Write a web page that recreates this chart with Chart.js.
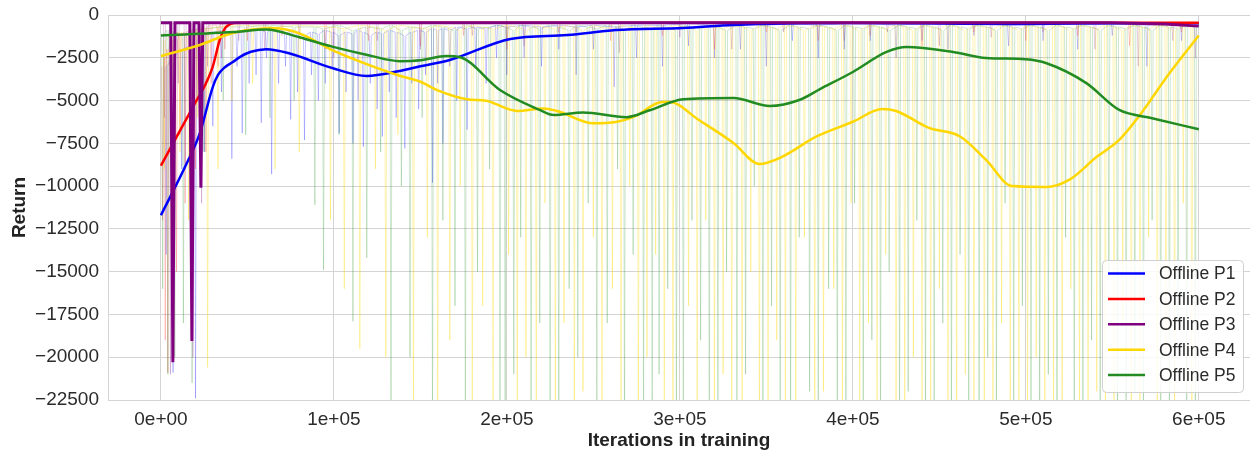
<!DOCTYPE html>
<html>
<head>
<meta charset="utf-8">
<title>Offline returns</title>
<script src="https://cdn.jsdelivr.net/npm/chart.js@4.4.1/dist/chart.umd.min.js"></script>
<style>
    body { margin: 0; background: #fff; }
    #wrap { width: 1250px; height: 450px; }
</style>
</head>
<body>
<div id="wrap"><canvas id="returnChart" width="1250" height="450"></canvas></div>
<script>
// x values are in thousands of iterations
const xTickValues = [0, 100, 200, 300, 400, 500, 600];
const xTickLabels = ['0e+00', '1e+05', '2e+05', '3e+05', '4e+05', '5e+05', '6e+05'];
const yTickValues = [0, -2500, -5000, -7500, -10000, -12500, -15000, -17500, -20000, -22500];

const seriesNames = ['Offline P1', 'Offline P2', 'Offline P3', 'Offline P4', 'Offline P5'];
const seriesColors = ['#0000ff', '#ff0000', '#800080', '#ffd700', '#228b22'];
const rawColors = ['rgba(0,0,255,0.22)', 'rgba(255,0,0,0.2)', 'rgba(128,0,128,0.2)',
                   'rgba(255,215,0,0.3)', 'rgba(34,139,34,0.22)'];

// smoothed curves [x, return]
const p1Smooth = [[0,-11700],[15,-8650],[22.5,-6900],[30,-4200],[33,-3500],[37,-3050],[41.6,-2750],
    [46,-2430],[52,-2150],[61,-2000],[74.5,-2250],[99,-3100],[119,-3560],[138,-3270],[150,-3000],
    [167,-2630],[202,-1400],[235,-1170],[263,-880],[302,-760],[331,-580],[398,-470],[450,-500],
    [500,-520],[560,-480],[600,-480]];
const p2Smooth = [[0,-8800],[10,-6950],[20,-5100],[26,-4000],[30,-3000],[34,-1460],[37,-780],[40,-530],
    [45,-450],[300,-450],[600,-450]];
const p3Smooth = [[0,-450],[5.7,-450],[6.9,-20300],[8.1,-450],[16.7,-450],[17.9,-19050],[19.1,-450],
    [22,-450],[23.1,-10100],[24.2,-450],[550,-450],[580,-520],[600,-650]];
const p4Smooth = [[0,-2400],[22.5,-1750],[41.6,-1050],[65,-780],[80,-1070],[99,-2050],[128,-3210],
    [138,-3550],[150,-3900],[160,-4400],[177,-4920],[188,-5010],[206,-5610],[221,-5460],[229,-5610],
    [250,-6330],[263,-6250],[273,-5970],[290,-5080],[294,-5080],[311,-6140],[331,-7480],[346,-8710],
    [359,-8290],[379,-7100],[400,-6240],[417,-5500],[425,-5610],[444,-6600],[462,-7100],[477,-8470],
    [492,-10000],[512,-10050],[525,-9640],[541,-8290],[554,-7300],[566,-5840],[583,-3410],[600,-1200]];
const p5Smooth = [[0,-1200],[41.6,-1000],[61,-850],[80,-1300],[99,-1850],[120,-2350],[138,-2700],
    [150,-2650],[165,-2400],[173,-2470],[196,-4380],[219,-5550],[227,-5850],[244,-5700],[269,-5970],
    [283,-5550],[302,-4920],[331,-4850],[352,-5320],[369,-4970],[381,-4330],[400,-3330],[419.5,-2160],
    [431,-1870],[458,-2160],[477,-2510],[500,-2590],[512,-2820],[535,-3980],[554,-5550],[573,-6030],
    [600,-6680]];

// raw spikes [x, level before/after, lowest value]
const p1Raw = [[3,-3000,-14000],[7,-2500,-20900],[12,-2000,-9000],[17,-1800,-12000],[20,-1500,-22400],
    [25,-1200,-8000],[30,-1000,-6500],[35,-900,-4500],[41,-1000,-8400],[44,-1100,-3000],[47,-900,-6900],
    [51,-1000,-4000],[55,-800,-3500],[58,-900,-6300],[61,-1000,-2500],[64,-900,-9300],[68,-1000,-4000],
    [72,-1100,-3000],[75,-900,-6100],[79,-1000,-4500],[83,-1200,-7300],[87,-1000,-3500],[91,-1100,-5000],
    [95,-900,-4000],[99,-1000,-3000],[103,-1200,-6900],[107,-1000,-4500],[111,-1100,-7500],[114,-900,-5000],
    [117,-1000,-7700],[121,-1200,-4000],[125,-1000,-5500],[128,-1100,-7100],[132,-900,-4500],[136,-1000,-6000],
    [141,-1200,-7800],[145,-1000,-4000],[149,-900,-5500],[153,-1000,-3500],[157,-800,-9800],[160,-900,-4000],
    [163,-800,-7500],[167,-900,-3000],[171,-700,-5000],[177,-800,-6700],[182,-700,-3000],[188,-800,-4000],
    [194,-600,-2500],[200,-700,-3500],[210,-600,-2500],[220,-700,-3000],[230,-600,-2000],[240,-700,-3500],
    [250,-600,-2000],[262,-700,-4200],[275,-600,-2500],[290,-600,-3000],[305,-500,-1800],[320,-600,-2500],
    [335,-500,-2000],[350,-600,-3000],[365,-500,-1500],[380,-600,-2500],[395,-500,-2000],[410,-500,-1500],
    [425,-600,-2500],[440,-500,-1500],[455,-500,-2000],[470,-500,-1200],[490,-600,-1800],[510,-500,-1500],
    [530,-500,-2000],[550,-500,-1200],[570,-600,-3000],[590,-500,-1500]];
const p2Raw = [[1,-3000,-12000],[2.5,-2500,-19000],[4,-2000,-20900],[6,-1500,-9000],[9,-1500,-15000],
    [11,-1200,-7000],[14,-1000,-11000],[17,-900,-6000],[20,-800,-9000],[23,-700,-5000],[26,-700,-8000],
    [29,-600,-4000],[33,-600,-3000],[37,-500,-2000],[50,-500,-1500],[70,-500,-1200],[95,-500,-2000],
    [120,-500,-1500],[150,-500,-1800],[175,-500,-1200],[200,-500,-2000],[230,-500,-1000],[260,-500,-1500],
    [290,-500,-1200],[320,-500,-2000],[350,-500,-1000],[380,-500,-1500],[410,-500,-1200],[440,-500,-1800],
    [470,-500,-1000],[500,-500,-1500],[530,-500,-1200],[560,-500,-1800],[590,-500,-1000]];
const p3Raw = [[2,-500,-6000],[5.5,-500,-21000],[10,-500,-4000],[14,-500,-9000],[18.5,-500,-20000],
    [21,-500,-5000],[23.5,-500,-11000],[27,-500,-3000],[35,-500,-2500],[45,-500,-1500],[60,-500,-2000],
    [80,-500,-1200],[100,-500,-2500],[125,-500,-1500],[150,-500,-2000],[180,-500,-1200],[210,-500,-1800],
    [240,-500,-1000],[265,-500,-2200],[300,-500,-1300],[330,-500,-2000],[360,-500,-1000],[395,-500,-1500],
    [420,-500,-1000],[450,-500,-1800],[480,-500,-1300],[510,-500,-1000],[540,-500,-2000],[565,-500,-3000],
    [585,-500,-1500],[598,-500,-2500]];
const p4Raw = [[2,-1500,-9000],[6,-1200,-14000],[11,-1000,-8000],[16,-1300,-12000],[21,-900,-6000],
    [27,-800,-20600],[33,-700,-9000],[41,-600,-5000],[53,-600,-4000],[66,-700,-9000],[80,-600,-8000],
    [98,-700,-12000],[106,-800,-16000],[115,-600,-19500],[124,-700,-9000],[130,-900,-20000],
    [137,-600,-7000],[146,-700,-23000],[154,-800,-13000],[160,-600,-24000],[167,-700,-19000],
    [173,-900,-10000],[180,-600,-24000],[186,-700,-17000],[192,-800,-24000],[201,-600,-14000],
    [206,-700,-24000],[211,-900,-20000],[217,-600,-24000],[222,-700,-11000],[228,-800,-24000],
    [233,-600,-18000],[239,-700,-24000],[244,-900,-22000],[250,-600,-13000],[255,-700,-24000],
    [261,-800,-16000],[266,-600,-24000],[271,-700,-10000],[276,-900,-24000],[281,-600,-20000],
    [286,-700,-14000],[291,-800,-24000],[296,-600,-24000],[305,-700,-17000],[310,-900,-24000],
    [315,-600,-12000],[320,-700,-24000],[325,-800,-21000],[330,-600,-24000],[336,-700,-24000],
    [341,-900,-15000],[346,-600,-24000],[351,-700,-24000],[356,-800,-19000],[361,-600,-24000],
    [367,-700,-24000],[372,-900,-13000],[378,-600,-24000],[383,-700,-22000],[389,-800,-16000],
    [394,-600,-24000],[399,-700,-11000],[404,-900,-24000],[409,-600,-18000],[414,-700,-24000],
    [419,-800,-14000],[425,-600,-24000],[430,-700,-24000],[435,-900,-20000],[440,-600,-24000],
    [445,-700,-24000],[450,-800,-16000],[455,-600,-24000],[460,-700,-24000],[465,-900,-21000],
    [470,-600,-24000],[476,-700,-24000],[481,-800,-24000],[486,-600,-18000],[491,-700,-24000],
    [496,-900,-24000],[501,-600,-24000],[506,-700,-20000],[511,-800,-24000],[516,-600,-24000],
    [521,-700,-24000],[526,-900,-16000],[531,-600,-24000],[536,-700,-24000],[541,-800,-22000],
    [546,-600,-24000],[551,-700,-24000],[556,-900,-18000],[561,-600,-24000],[566,-700,-24000],
    [571,-800,-13000],[576,-600,-24000],[581,-700,-20000],[586,-900,-24000],[591,-600,-11000],
    [596,-700,-24000]];
const p5Raw = [[1,-1100,-16000],[4,-900,-21000],[8,-1000,-20000],[13,-1200,-18000],[18,-900,-21500],
    [25,-800,-8000],[36,-700,-5000],[49,-700,-7000],[63,-600,-6000],[77,-700,-5000],[89,-700,-11100],
    [94,-800,-14900],[103,-600,-7000],[111,-900,-17900],[119,-700,-14200],[127,-800,-8000],
    [133,-600,-24000],[139,-900,-10000],[144,-700,-20000],[151,-800,-6000],[157,-600,-24000],
    [163,-700,-12000],[170,-900,-17000],[176,-600,-24000],[183,-800,-15000],[190,-700,-9000],
    [196,-600,-24000],[199,-700,-24000],[204,-900,-21000],[208,-600,-13000],[214,-700,-24000],
    [219,-800,-18000],[225,-600,-24000],[230,-700,-24000],[236,-900,-16000],[241,-600,-20000],
    [247,-700,-11000],[252,-800,-24000],[258,-600,-18000],[264,-700,-9000],[268,-900,-24000],
    [273,-600,-14000],[279,-700,-24000],[284,-800,-24000],[288,-600,-21000],[293,-700,-16000],
    [298,-900,-24000],[302,-600,-24000],[307,-700,-12000],[312,-800,-19000],[317,-600,-24000],
    [322,-700,-24000],[327,-900,-15000],[333,-600,-24000],[338,-700,-21000],[343,-800,-10000],
    [348,-600,-24000],[353,-700,-17000],[358,-900,-24000],[364,-600,-24000],[369,-700,-13000],
    [375,-800,-22000],[380,-600,-24000],[386,-700,-16000],[391,-900,-24000],[396,-600,-24000],
    [401,-700,-11000],[406,-800,-24000],[411,-600,-19000],[416,-700,-24000],[421,-900,-15000],
    [427,-600,-24000],[432,-700,-22000],[437,-800,-12000],[442,-600,-24000],[447,-700,-24000],
    [452,-900,-18000],[457,-600,-24000],[462,-700,-14000],[467,-800,-24000],[473,-600,-24000],
    [478,-700,-20000],[483,-900,-24000],[488,-600,-11000],[493,-700,-24000],[498,-800,-17000],
    [503,-600,-24000],[508,-700,-24000],[513,-900,-21000],[518,-600,-24000],[523,-700,-13000],
    [528,-800,-24000],[533,-600,-24000],[538,-700,-19000],[543,-900,-24000],[548,-600,-15000],
    [553,-700,-24000],[558,-800,-24000],[563,-600,-22000],[568,-700,-24000],[573,-900,-12000],
    [578,-600,-24000],[583,-700,-24000],[588,-800,-18000],[593,-600,-24000],[598,-700,-24000]];

const smoothSeries = [p1Smooth, p2Smooth, p3Smooth, p4Smooth, p5Smooth];
const rawSeries = [p1Raw, p2Raw, p3Raw, p4Raw, p5Raw];

const FONT = '"Liberation Sans", Arial, sans-serif';
const GRID = '#d4d4d4';

// each spike goes down and straight back up
function spikePoints(spikes) {
    return spikes.flatMap(([x, top, low]) => [[x - 0.6, top], [x, low], [x + 0.6, top]]);
}

// legend inside the plot, bottom right
const legendBox = {
    id: 'legendBox',
    afterDraw(chart) {
        const ctx = chart.ctx;
        const area = chart.chartArea;
        const w = 141, h = 132;
        const x0 = area.right - 7 - w;
        const y0 = area.bottom - 8 - h;
        ctx.save();
        ctx.fillStyle = 'rgba(255,255,255,0.85)';
        ctx.strokeStyle = '#d0d0d0';
        ctx.lineWidth = 1;
        ctx.beginPath();
        ctx.roundRect(x0 + 0.5, y0 + 0.5, w, h, 4);
        ctx.fill();
        ctx.stroke();
        ctx.font = '17.5px ' + FONT;
        ctx.textBaseline = 'middle';
        seriesNames.forEach((name, i) => {
            const cy = y0 + 13.5 + i * 25.4;
            ctx.strokeStyle = seriesColors[i];
            ctx.lineWidth = 2.5;
            ctx.beginPath();
            ctx.moveTo(x0 + 6, cy);
            ctx.lineTo(x0 + 43, cy);
            ctx.stroke();
            ctx.fillStyle = '#2b2b2b';
            ctx.fillText(name, x0 + 57, cy + 1);
        });
        ctx.restore();
    }
};

function createReturnChart() {
    const datasets = [];
    rawSeries.forEach((spikes, i) => {
        datasets.push({
            label: seriesNames[i] + ' raw',
            data: spikePoints(spikes),
            borderColor: rawColors[i],
            borderWidth: 1,
            pointRadius: 0,
            tension: 0,
            order: 20 - i
        });
    });
    smoothSeries.forEach((points, i) => {
        datasets.push({
            label: seriesNames[i],
            data: points,
            borderColor: seriesColors[i],
            borderWidth: i === 2 ? 3 : 2.5,
            pointRadius: 0,
            cubicInterpolationMode: i === 2 ? 'default' : 'monotone',
            tension: i === 2 ? 0 : 0.4,
            order: 5 - i
        });
    });

    const ctx = document.getElementById('returnChart').getContext('2d');
    new Chart(ctx, {
        type: 'line',
        data: { datasets },
        options: {
            responsive: false,
            animation: false,
            devicePixelRatio: 1,
            layout: { padding: { top: 15, right: 0, left: 0, bottom: 0 } },
            plugins: {
                legend: { display: false },
                tooltip: { enabled: false }
            },
            scales: {
                x: {
                    type: 'linear',
                    min: -30.6,
                    max: 629.6,
                    afterBuildTicks: scale => { scale.ticks = xTickValues.map(v => ({ value: v })); },
                    afterFit: scale => { scale.height = 50; },
                    grid: { color: GRID, lineWidth: 1, drawTicks: false },
                    border: { display: true, color: GRID },
                    ticks: {
                        padding: 8,
                        color: '#2b2b2b',
                        font: { family: FONT, size: 19 },
                        maxRotation: 0,
                        callback: v => xTickLabels[xTickValues.indexOf(v)]
                    },
                    title: {
                        display: true,
                        text: 'Iterations in training',
                        color: '#222',
                        font: { family: FONT, size: 19, weight: 'bold', lineHeight: 1 },
                        padding: { top: 0, bottom: 0 }
                    }
                },
                y: {
                    type: 'linear',
                    min: -22500,
                    max: 0,
                    afterBuildTicks: scale => { scale.ticks = yTickValues.map(v => ({ value: v })); },
                    afterFit: scale => {
                        scale.width = 108;
                        scale.paddingTop = 0;
                        scale.paddingBottom = 0;
                    },
                    grid: { color: GRID, lineWidth: 1, drawTicks: false },
                    border: { display: true, color: GRID },
                    ticks: {
                        padding: 9,
                        color: '#2b2b2b',
                        font: { family: FONT, size: 19 },
                        callback: v => String(v).replace('-', '\u2212')
                    },
                    title: {
                        display: true,
                        text: 'Return',
                        color: '#222',
                        font: { family: FONT, size: 19, weight: 'bold', lineHeight: 1 },
                        padding: { top: 10, bottom: 0 }
                    }
                }
            }
        },
        plugins: [legendBox]
    });
}

window.onload = function () {
    createReturnChart();
};
</script>
</body>
</html>
